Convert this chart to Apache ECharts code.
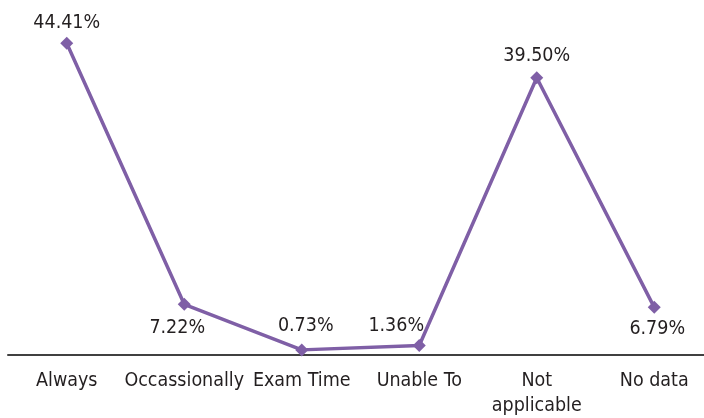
<!DOCTYPE html>
<html>
<head>
<meta charset="utf-8">
<script src="https://cdn.jsdelivr.net/npm/echarts@6/dist/echarts.min.js"></script>
<style>
  html, body { margin: 0; padding: 0; background: #fff; }
  #chart { width: 704px; height: 418px; }
</style>
</head>
<body>
<div id="chart"></div>
<script>
// categories and values
const categories = ['Always', 'Occassionally', 'Exam Time', 'Unable To', 'Not\napplicable', 'No data']
const values = [44.41, 7.22, 0.73, 1.36, 39.50, 6.79]
// where each value label sits relative to its marker
const labelPlaces = ['top', 'bottom', 'top', 'top', 'top', 'bottom']
const labelShifts = [[0, 0], [-7, 3], [4, -3], [-23, 1], [0, -1], [3, 1]]

const font = '"DejaVu Sans Condensed", "Liberation Sans Narrow", sans-serif'
const purple = '#7f5fa6'

const chart = echarts.init(document.getElementById('chart'))

const data = values.map((v, i) => {
  return {
    value: v,
    label: {
      position: labelPlaces[i],
      offset: labelShifts[i]
    }
  }
})

chart.setOption({
  animation: false,
  grid: {
    left: 8,
    width: 705,
    top: 4,
    bottom: 63,
    containLabel: false,
    outerBoundsMode: 'none'
  },
  xAxis: {
    type: 'category',
    data: categories,
    boundaryGap: true,
    axisTick: { show: false },
    axisLine: {
      lineStyle: { color: '#404040', width: 2 }
    },
    axisLabel: {
      interval: 0,
      margin: 13,
      fontFamily: font,
      fontSize: 19.5,
      lineHeight: 25,
      color: '#231f20'
    }
  },
  yAxis: {
    type: 'value',
    min: 0,
    max: 50,
    show: false
  },
  series: [{
    type: 'line',
    data: data,
    symbol: 'diamond',
    symbolSize: 13,
    lineStyle: { color: purple, width: 3.5 },
    itemStyle: { color: purple },
    label: {
      show: true,
      distance: 4,
      fontFamily: font,
      fontSize: 19.5,
      color: '#231f20',
      formatter: (p) => p.value.toFixed(2) + '%'
    }
  }]
})
</script>
</body>
</html>
